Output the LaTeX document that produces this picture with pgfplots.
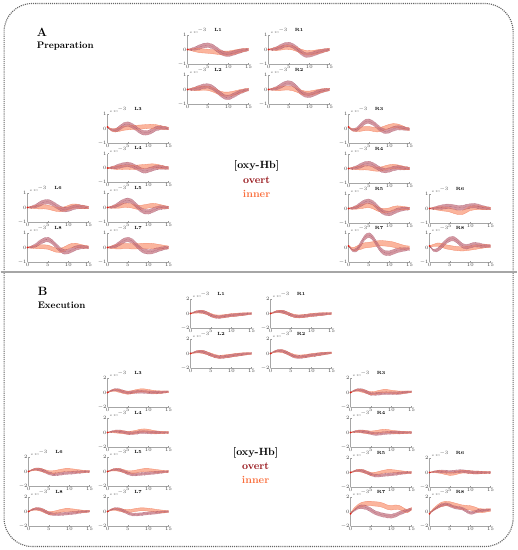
\documentclass[border=0pt]{standalone}
\usepackage{pgfplots}
\pgfplotsset{compat=1.18}
\usepackage{pgfplotstable}
\usepgfplotslibrary{fillbetween}
\definecolor{ovf}{RGB}{196,112,125}
\definecolor{ovd}{RGB}{128,50,80}
\definecolor{inf}{RGB}{250,168,140}
\definecolor{ind}{RGB}{242,135,105}
\definecolor{overtc}{RGB}{150,20,25}
\definecolor{innerc}{RGB}{250,110,60}
\definecolor{startc}{RGB}{225,30,20}
\pgfplotsset{sub/.style={scale only axis, width=61pt, height=29pt, xmin=0, xmax=15,
  axis x line*=bottom, axis y line*=left, xtick={0,5,10,15},
  tick label style={font=\fontsize{4.5}{5}\selectfont, text=black!75, inner sep=0.8pt},
  axis line style={black!35, line width=0.35pt}, major tick length=1.2pt,
  tick style={black!40, line width=0.3pt}, tick align=inside, clip=false}}
\newcommand{\subplt}[7]{%
\begin{axis}[sub, at={(#1pt,-#2pt)}, anchor=north west, ymin=-#5, ymax=#5, ytick={-#5,0,#5}]
\addplot[name path=iu, draw=ind, line width=0.3pt, smooth] table[x=x, y expr=\thisrow{im}+#7*\thisrow{w}] {#4};
\addplot[name path=il, draw=ind, line width=0.3pt, smooth] table[x=x, y expr=\thisrow{im}-#7*\thisrow{w}] {#4};
\addplot[inf, fill opacity=0.85] fill between[of=iu and il];
\addplot[name path=ou, draw=ovd, densely dotted, line width=0.3pt, smooth] table[x=x, y expr=\thisrow{om}+#6*\thisrow{w}] {#4};
\addplot[name path=ol, draw=ovd, densely dotted, line width=0.3pt, smooth] table[x=x, y expr=\thisrow{om}-#6*\thisrow{w}] {#4};
\addplot[ovf, fill opacity=0.72] fill between[of=ou and ol];
\addplot[draw=ovd, densely dotted, line width=0.3pt, smooth] table[x=x, y=om] {#4};
\addplot[only marks, mark=*, mark size=0.7pt, color=startc, restrict x to domain=0:0.2] table[x=x, y=om] {#4};
\node[font=\bfseries\fontsize{4.5}{5}\selectfont, anchor=south, inner sep=1pt] at (rel axis cs:0.5,1.08) {#3};
\node[font=\fontsize{3}{3}\selectfont, anchor=south west, inner sep=0.3pt, text=black!70] at (rel axis cs:0.03,1.03) {x 10$^{-3}$};
\end{axis}}

\pgfplotstableread{
x w om im
0 .15 0 0
1 .5 .02 -.02
2 .8 .08 -.05
3 1 .18 -.08
4 1 .27 -.1
5 1 .3 -.12
6 1 .22 -.15
7 1 .05 -.18
8 1 -.15 -.22
9 1 -.3 -.25
10 1 -.33 -.25
11 1 -.27 -.2
12 .95 -.18 -.14
13 .85 -.1 -.08
14 .7 -.04 -.03
15 .55 0 0
}\ALone
\pgfplotstableread{
x w om im
0 .15 0 0
1 .5 .02 .02
2 .8 .07 .05
3 1 .15 .08
4 1 .23 .1
5 1 .25 .08
6 1 .15 0
7 1 -.05 -.12
8 1 -.3 -.25
9 1 -.5 -.32
10 1 -.55 -.32
11 1 -.45 -.27
12 .95 -.3 -.2
13 .85 -.17 -.12
14 .7 -.07 -.05
15 .55 0 0
}\ALtwo
\pgfplotstableread{
x w om im
0 .15 0 0
1 .5 .02 .02
2 .8 .08 .05
3 1 .2 .1
4 1 .32 .14
5 1 .35 .15
6 1 .25 .1
7 1 .05 0
8 1 -.2 -.12
9 1 -.38 -.2
10 1 -.38 -.22
11 1 -.3 -.2
12 .95 -.2 -.15
13 .85 -.12 -.1
14 .7 -.05 -.05
15 .55 0 0
}\ARone
\pgfplotstableread{
x w om im
0 .15 0 0
1 .5 .03 .02
2 .8 .1 .05
3 1 .25 .08
4 1 .4 .1
5 1 .45 .1
6 1 .35 .05
7 1 .1 -.05
8 1 -.2 -.18
9 1 -.38 -.25
10 1 -.4 -.25
11 1 -.32 -.2
12 .95 -.2 -.14
13 .85 -.1 -.08
14 .7 -.04 -.03
15 .55 0 0
}\ARtwo
\pgfplotstableread{
x w om im
0 .15 .1 .1
1 .5 -.1 -.1
2 .8 -.12 -.12
3 1 .05 -.05
4 1 .25 .02
5 1 .3 .05
6 1 .2 .07
7 1 0 .08
8 1 -.2 .1
9 1 -.3 .12
10 1 -.28 .14
11 1 -.15 .15
12 .95 0 .13
13 .85 .05 .08
14 .7 .03 .04
15 .55 0 0
}\ALthree
\pgfplotstableread{
x w om im
0 .15 0 0
1 .5 .02 .01
2 .8 .07 .02
3 1 .15 .04
4 1 .22 .05
5 1 .25 .05
6 1 .18 .04
7 1 .05 .05
8 1 -.1 .08
9 1 -.2 .1
10 1 -.15 .13
11 1 -.05 .15
12 .95 .03 .13
13 .85 .05 .08
14 .7 .02 .03
15 .55 0 0
}\ALfour
\pgfplotstableread{
x w om im
0 .15 0 0
1 .5 .03 .02
2 .8 .12 .06
3 1 .28 .1
4 1 .43 .14
5 1 .5 .15
6 1 .4 .1
7 1 .15 .03
8 1 -.12 0
9 1 -.28 .05
10 1 -.3 .1
11 1 -.2 .15
12 .95 -.08 .13
13 .85 0 .08
14 .7 0 .03
15 .55 0 0
}\ALfive
\pgfplotstableread{
x w om im
0 .15 0 0
1 .5 .03 .02
2 .8 .12 .05
3 1 .3 .08
4 1 .48 .1
5 1 .55 .1
6 1 .45 .08
7 1 .2 .08
8 1 -.08 .1
9 1 -.25 .12
10 1 -.3 .12
11 1 -.28 .1
12 .95 -.18 .07
13 .85 -.1 .04
14 .7 -.04 .02
15 .55 0 0
}\ALseven
\pgfplotstableread{
x w om im
0 .15 0 0
1 .5 .03 .01
2 .8 .1 .03
3 1 .25 .04
4 1 .37 .05
5 1 .4 .02
6 1 .3 -.05
7 1 .12 -.12
8 1 -.05 -.15
9 1 -.15 -.1
10 1 -.12 0
11 1 -.02 .1
12 .95 .05 .1
13 .85 .05 .05
14 .7 .02 .02
15 .55 0 0
}\ALsix
\pgfplotstableread{
x w om im
0 .15 0 0
1 .5 .04 .02
2 .8 .15 .04
3 1 .35 .05
4 1 .5 .05
5 1 .55 .02
6 1 .4 -.08
7 1 .12 -.18
8 1 -.15 -.2
9 1 -.3 -.1
10 1 -.28 .05
11 1 -.15 .15
12 .95 -.03 .15
13 .85 .03 .1
14 .7 .03 .05
15 .55 0 .03
}\ALeight
\pgfplotstableread{
x w om im
0 .15 .1 .1
1 .5 -.1 -.1
2 .8 -.05 -.1
3 1 .2 -.05
4 1 .45 0
5 1 .5 0
6 1 .38 -.05
7 1 .15 -.1
8 1 -.08 -.05
9 1 -.2 .05
10 1 -.15 .15
11 1 -.02 .2
12 .95 .05 .18
13 .85 .03 .1
14 .7 -.02 0
15 .55 -.05 -.05
}\ARthree
\pgfplotstableread{
x w om im
0 .15 0 0
1 .5 .02 .01
2 .8 .08 .03
3 1 .2 .04
4 1 .32 .05
5 1 .35 .03
6 1 .25 -.02
7 1 .08 -.05
8 1 -.08 -.03
9 1 -.15 .05
10 1 -.1 .12
11 1 0 .15
12 .95 .05 .12
13 .85 .04 .07
14 .7 .02 .02
15 .55 0 0
}\ARfour
\pgfplotstableread{
x w om im
0 .15 0 0
1 .5 .03 .02
2 .8 .12 .07
3 1 .3 .13
4 1 .45 .18
5 1 .5 .2
6 1 .38 .12
7 1 .12 -.02
8 1 -.15 -.12
9 1 -.32 -.15
10 1 -.35 -.1
11 1 -.25 0
12 .95 -.12 .05
13 .85 -.05 .04
14 .7 -.02 .02
15 .55 0 0
}\ARfive
\pgfplotstableread{
x w om im
0 .15 .1 .1
1 .5 -.2 -.1
2 .8 -.15 -.05
3 1 .25 .05
4 1 .7 .15
5 1 .85 .18
6 1 .65 .22
7 1 .2 .28
8 1 -.2 .3
9 1 -.38 .28
10 1 -.4 .25
11 1 -.3 .2
12 .95 -.2 .12
13 .85 -.15 .05
14 .7 -.12 0
15 .55 -.1 0
}\ARseven
\pgfplotstableread{
x w om im
0 .15 0 0
1 .5 .02 .01
2 .8 .06 0
3 1 .1 -.02
4 1 .14 -.05
5 1 .15 -.1
6 1 .1 -.2
7 1 .05 -.28
8 1 .05 -.28
9 1 .12 -.15
10 1 .18 0
11 1 .2 .05
12 .95 .15 .05
13 .85 .08 .03
14 .7 .03 .01
15 .55 0 0
}\ARsix
\pgfplotstableread{
x w om im
0 .15 .1 .1
1 .5 -.2 .15
2 .8 -.15 .2
3 1 .1 .15
4 1 .4 .05
5 1 .58 0
6 1 .6 -.05
7 1 .4 -.08
8 1 .15 -.1
9 1 .05 -.08
10 1 .12 -.04
11 1 .2 0
12 .95 .18 .04
13 .85 .12 .07
14 .7 .1 .1
15 .55 .1 .1
}\AReight

\pgfplotstableread{
x w om im
0 .15 0 0
1 .5 .2 .15
2 .8 .3 .22
3 1 .25 .2
4 1 .05 .05
5 1 -.25 -.2
6 1 -.45 -.38
7 1 -.5 -.42
8 1 -.42 -.38
9 1 -.32 -.3
10 1 -.25 -.22
11 1 -.2 -.18
12 .95 -.15 -.12
13 .85 -.1 -.08
14 .7 -.05 -.04
15 .55 0 0
}\BLone
\pgfplotstableread{
x w om im
0 .15 0 0
1 .5 .2 .18
2 .8 .3 .28
3 1 .25 .22
4 1 .05 .05
5 1 -.2 -.18
6 1 -.38 -.35
7 1 -.42 -.4
8 1 -.38 -.35
9 1 -.3 -.28
10 1 -.22 -.2
11 1 -.18 -.15
12 .95 -.12 -.1
13 .85 -.08 -.06
14 .7 -.04 -.03
15 .55 0 0
}\BRone
\pgfplotstableread{
x w om im
0 .15 0 0
1 .5 .2 .15
2 .8 .3 .25
3 1 .25 .2
4 1 .05 .05
5 1 -.2 -.15
6 1 -.4 -.35
7 1 -.5 -.45
8 1 -.48 -.42
9 1 -.4 -.35
10 1 -.3 -.28
11 1 -.22 -.2
12 .95 -.15 -.13
13 .85 -.08 -.07
14 .7 -.03 -.03
15 .55 0 0
}\BLtwo
\pgfplotstableread{
x w om im
0 .15 0 0
1 .5 .3 .25
2 .8 .4 .35
3 1 .35 .3
4 1 .1 .1
5 1 -.2 -.15
6 1 -.45 -.35
7 1 -.5 -.42
8 1 -.45 -.38
9 1 -.35 -.3
10 1 -.25 -.22
11 1 -.18 -.15
12 .95 -.1 -.08
13 .85 -.02 0
14 .7 .05 .05
15 .55 .1 .08
}\BRtwo
\pgfplotstableread{
x w om im
0 .15 0 0
1 .5 .3 .25
2 .8 .4 .3
3 1 .3 .2
4 1 .1 .05
5 1 0 -.05
6 1 .02 .05
7 1 .08 .2
8 1 .1 .3
9 1 .08 .3
10 1 .03 .22
11 1 0 .12
12 .95 0 .05
13 .85 .03 .05
14 .7 .07 .08
15 .55 .1 .1
}\BLthree
\pgfplotstableread{
x w om im
0 .15 0 0
1 .5 .12 .08
2 .8 .2 .1
3 1 .15 .08
4 1 .05 .02
5 1 -.08 -.05
6 1 -.1 0
7 1 -.05 .1
8 1 .05 .25
9 1 .05 .3
10 1 .02 .25
11 1 0 .12
12 .95 0 .03
13 .85 0 0
14 .7 0 0
15 .55 0 0
}\BLfour
\pgfplotstableread{
x w om im
0 .15 0 0
1 .5 .2 .18
2 .8 .3 .25
3 1 .22 .2
4 1 0 .05
5 1 -.25 -.1
6 1 -.4 -.1
7 1 -.4 0
8 1 -.35 .12
9 1 -.3 .2
10 1 -.25 .2
11 1 -.2 .15
12 .95 -.15 .08
13 .85 -.1 .03
14 .7 -.05 0
15 .55 0 0
}\BLfive
\pgfplotstableread{
x w om im
0 .15 0 0
1 .5 .3 .25
2 .8 .4 .3
3 1 .3 .22
4 1 .05 .1
5 1 -.2 .08
6 1 -.4 .12
7 1 -.42 .22
8 1 -.38 .3
9 1 -.3 .3
10 1 -.25 .25
11 1 -.2 .18
12 .95 -.15 .1
13 .85 -.1 .05
14 .7 -.05 .02
15 .55 0 0
}\BLseven
\pgfplotstableread{
x w om im
0 .15 0 0
1 .5 .25 .22
2 .8 .35 .3
3 1 .25 .22
4 1 0 .05
5 1 -.25 -.1
6 1 -.4 -.1
7 1 -.38 0
8 1 -.3 .12
9 1 -.22 .2
10 1 -.18 .2
11 1 -.15 .15
12 .95 -.1 .08
13 .85 -.06 .03
14 .7 -.02 0
15 .55 0 0
}\BLsix
\pgfplotstableread{
x w om im
0 .15 0 0
1 .5 .3 .28
2 .8 .4 .35
3 1 .3 .25
4 1 .05 0
5 1 -.25 -.2
6 1 -.38 -.18
7 1 -.38 -.05
8 1 -.35 .1
9 1 -.3 .2
10 1 -.25 .2
11 1 -.2 .15
12 .95 -.12 .08
13 .85 -.05 .03
14 .7 0 0
15 .55 .05 .05
}\BLeight
\pgfplotstableread{
x w om im
0 .15 0 0
1 .5 .3 .25
2 .8 .4 .3
3 1 .3 .22
4 1 .05 .05
5 1 -.2 -.1
6 1 -.2 -.05
7 1 -.15 .1
8 1 -.1 .2
9 1 -.1 .2
10 1 -.1 .12
11 1 -.1 .05
12 .95 -.08 0
13 .85 0 .03
14 .7 .05 .08
15 .55 .1 .1
}\BRthree
\pgfplotstableread{
x w om im
0 .15 0 0
1 .5 .12 .1
2 .8 .2 .15
3 1 .15 .12
4 1 .05 .05
5 1 -.1 0
6 1 -.2 .05
7 1 -.18 .15
8 1 -.1 .25
9 1 -.05 .22
10 1 -.02 .12
11 1 0 .05
12 .95 0 0
13 .85 0 0
14 .7 0 0
15 .55 0 0
}\BRfour
\pgfplotstableread{
x w om im
0 .15 0 0
1 .5 .2 .2
2 .8 .3 .28
3 1 .22 .2
4 1 0 0
5 1 -.25 -.2
6 1 -.42 -.18
7 1 -.42 -.05
8 1 -.35 .1
9 1 -.3 .2
10 1 -.25 .2
11 1 -.2 .15
12 .95 -.12 .08
13 .85 -.06 .03
14 .7 -.02 0
15 .55 0 0
}\BRfive
\pgfplotstableread{
x w om im
0 .15 0 0
1 .5 .1 .08
2 .8 .15 .1
3 1 .15 .05
4 1 .12 -.1
5 1 .1 -.2
6 1 .12 -.15
7 1 .18 0
8 1 .2 .12
9 1 .12 .12
10 1 .05 .05
11 1 0 0
12 .95 0 0
13 .85 0 0
14 .7 0 0
15 .55 0 0
}\BRsix
\pgfplotstableread{
x w om im
0 .15 -.3 -.2
1 .5 .2 .4
2 .8 .6 .8
3 1 .65 1.0
4 1 .5 1.1
5 1 .2 1.1
6 1 -.15 1.05
7 1 -.35 1.0
8 1 -.5 .85
9 1 -.6 .6
10 1 -.65 .5
11 1 -.5 .6
12 .95 -.25 .55
13 .85 -.05 .25
14 .7 .15 .05
15 .55 .35 .4
}\BRseven
\pgfplotstableread{
x w om im
0 .15 -.3 -.2
1 .5 .2 .3
2 .8 .6 .7
3 1 .9 1.0
4 1 1.0 1.1
5 1 .85 1.05
6 1 .6 .9
7 1 .5 .75
8 1 .4 .6
9 1 .1 .55
10 1 -.2 .5
11 1 -.1 .35
12 .95 .1 .15
13 .85 .15 .1
14 .7 .2 .15
15 .55 .25 .2
}\BReight

\begin{document}
\begin{tikzpicture}
\path (0pt,0pt) rectangle (516pt,-550pt);
\draw[black!60, line width=1.1pt, densely dotted, rounded corners=28pt] (3.5pt,-3.5pt) rectangle (512.5pt,-546.5pt);
\draw[black!35, line width=1.2pt] (0pt,-272pt) -- (516pt,-272pt);
\node[anchor=base west, inner sep=0pt, font=\bfseries\fontsize{12}{12}\selectfont] at (36pt,-36pt) {A};
\node[anchor=base west, inner sep=0pt, font=\bfseries\fontsize{9.5}{10}\selectfont] at (36pt,-48.5pt) {Preparation};
\node[anchor=base west, inner sep=0pt, font=\bfseries\fontsize{12}{12}\selectfont] at (37pt,-295pt) {B};
\node[anchor=base west, inner sep=0pt, font=\bfseries\fontsize{9.5}{10}\selectfont] at (37pt,-308pt) {Execution};
\node[anchor=base, inner sep=0pt, font=\bfseries\fontsize{10.5}{11}\selectfont] at (256pt,-168.5pt) {[oxy-Hb]};
\node[anchor=base, inner sep=0pt, font=\bfseries\fontsize{10.5}{11}\selectfont, text=overtc] at (256pt,-183pt) {overt};
\node[anchor=base, inner sep=0pt, font=\bfseries\fontsize{10.5}{11}\selectfont, text=innerc] at (256pt,-197pt) {inner};
\node[anchor=base, inner sep=0pt, font=\bfseries\fontsize{10.5}{11}\selectfont] at (255pt,-455pt) {[oxy-Hb]};
\node[anchor=base, inner sep=0pt, font=\bfseries\fontsize{10.5}{11}\selectfont, text=overtc] at (255pt,-469pt) {overt};
\node[anchor=base, inner sep=0pt, font=\bfseries\fontsize{10.5}{11}\selectfont, text=innerc] at (255pt,-483pt) {inner};
% Panel A
\subplt{187}{35}{L1}{\ALone}{1}{.16}{.14}
\subplt{187}{75}{L2}{\ALtwo}{1}{.16}{.14}
\subplt{268}{35}{R1}{\ARone}{1}{.16}{.14}
\subplt{268}{75}{R2}{\ARtwo}{1}{.16}{.14}
\subplt{107}{114}{L3}{\ALthree}{1}{.16}{.14}
\subplt{107}{153.5}{L4}{\ALfour}{1}{.16}{.14}
\subplt{107}{193}{L5}{\ALfive}{1}{.16}{.14}
\subplt{107}{233}{L7}{\ALseven}{1}{.16}{.18}
\subplt{27}{193}{L6}{\ALsix}{1}{.16}{.14}
\subplt{27}{233}{L8}{\ALeight}{1}{.16}{.14}
\subplt{348}{114}{R3}{\ARthree}{1}{.16}{.14}
\subplt{348}{154}{R4}{\ARfour}{1}{.16}{.14}
\subplt{348}{194}{R5}{\ARfive}{1}{.16}{.14}
\subplt{348}{233}{R7}{\ARseven}{1}{.17}{.18}
\subplt{429}{194}{R6}{\ARsix}{1}{.16}{.14}
\subplt{429}{233}{R8}{\AReight}{1}{.16}{.14}
% Panel B
\subplt{190}{299}{L1}{\BLone}{2}{.2}{.2}
\subplt{190}{339}{L2}{\BLtwo}{2}{.2}{.2}
\subplt{270}{299}{R1}{\BRone}{2}{.2}{.2}
\subplt{270}{339}{R2}{\BRtwo}{2}{.2}{.2}
\subplt{107}{378}{L3}{\BLthree}{2}{.2}{.2}
\subplt{107}{418}{L4}{\BLfour}{2}{.2}{.2}
\subplt{107}{457}{L5}{\BLfive}{2}{.2}{.2}
\subplt{107}{497}{L7}{\BLseven}{2}{.2}{.2}
\subplt{28}{457}{L6}{\BLsix}{2}{.2}{.2}
\subplt{28}{497}{L8}{\BLeight}{2}{.2}{.2}
\subplt{350}{378}{R3}{\BRthree}{2}{.2}{.2}
\subplt{350}{418}{R4}{\BRfour}{2}{.2}{.2}
\subplt{350}{458}{R5}{\BRfive}{2}{.2}{.2}
\subplt{350}{497}{R7}{\BRseven}{2}{.28}{.3}
\subplt{429}{458}{R6}{\BRsix}{2}{.2}{.2}
\subplt{429}{497}{R8}{\BReight}{2}{.2}{.3}
\end{tikzpicture}
\end{document}
